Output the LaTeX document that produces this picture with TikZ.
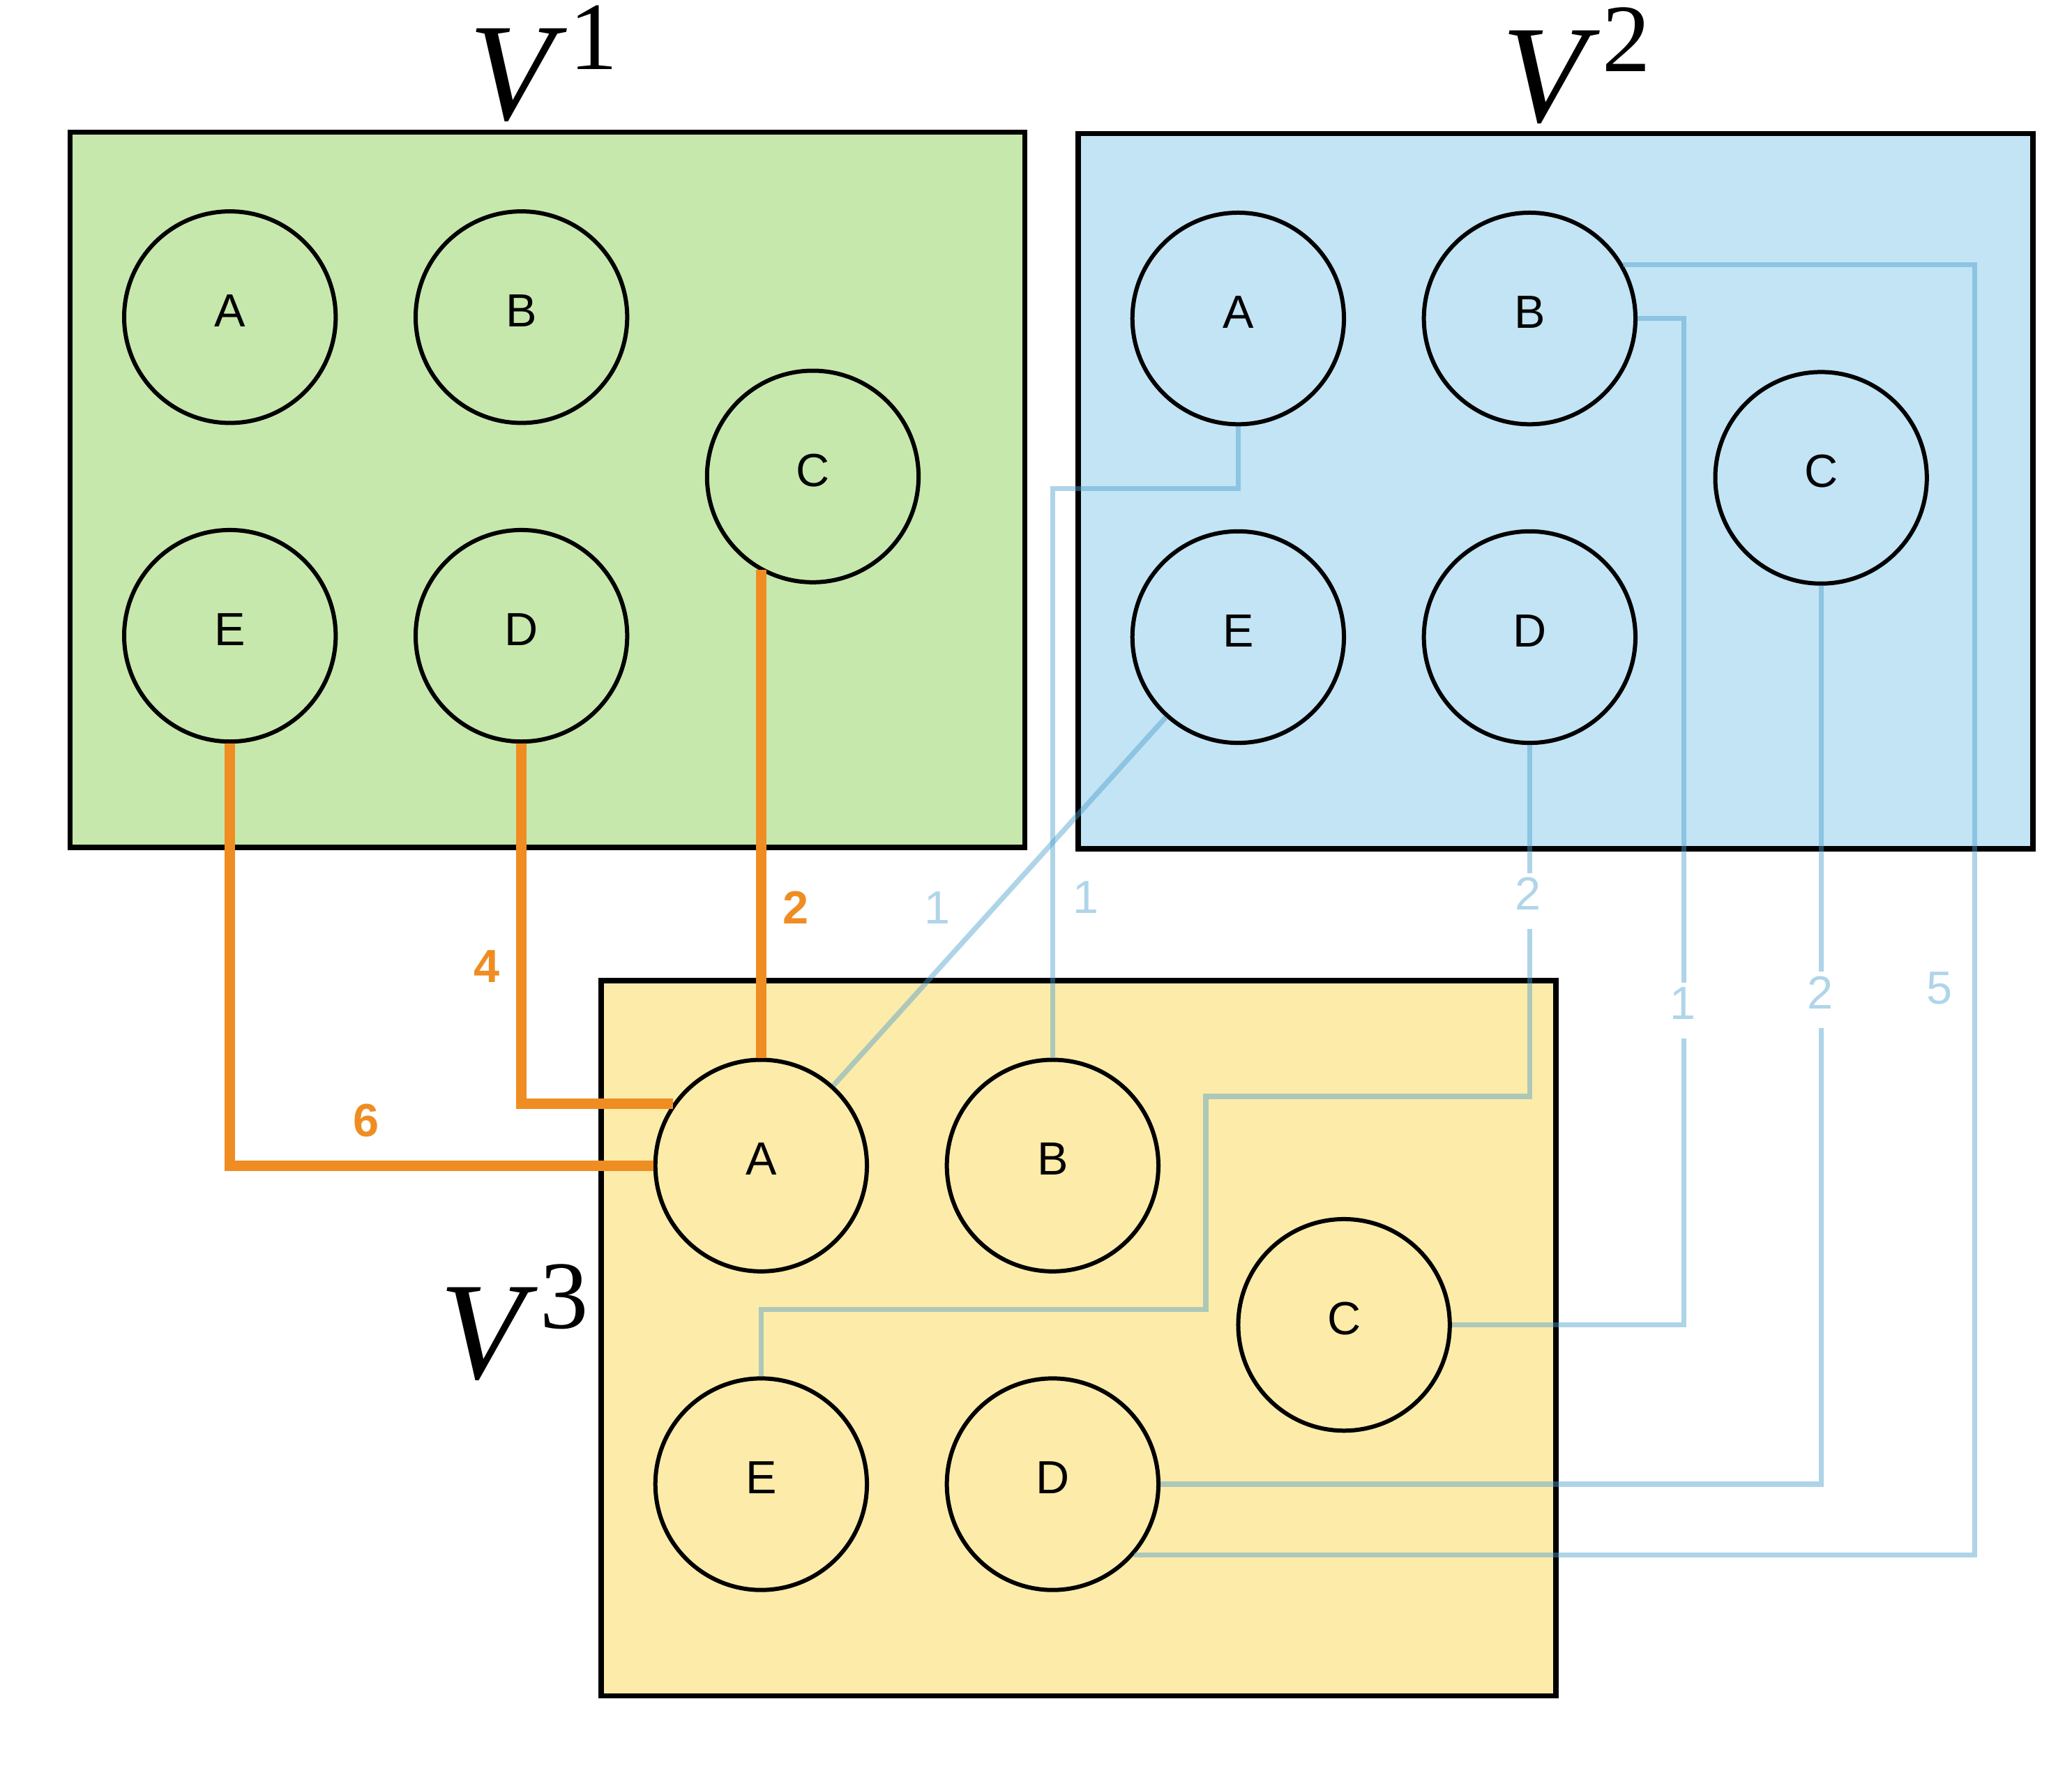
\documentclass[tikz,border=0pt]{standalone}
\usepackage{fontspec}
\setmainfont{Liberation Serif}
\newfontfamily\labelfont{Liberation Sans}
\usetikzlibrary{calc, positioning}
\definecolor{greenset}{RGB}{199,232,172}
\definecolor{blueset}{RGB}{194,228,245}
\definecolor{yellowset}{RGB}{253,235,170}
\definecolor{flowcol}{RGB}{239,141,34}
\definecolor{linkcol}{RGB}{76,159,205}
\definecolor{linktext}{RGB}{176,213,233}
\tikzstyle{panel}=[draw, line width=1.1pt, minimum width=7.22cm, minimum height=5.41cm, anchor=north west, inner sep=0pt, outer sep=0pt]
\tikzstyle{vertex}=[circle, draw, line width=0.9pt, minimum size=1.6cm, inner sep=0pt, text depth=2.8pt, font=\labelfont\fontsize{10}{12}\selectfont]
\tikzstyle{flow}=[draw=flowcol, line width=2.2pt]
\tikzstyle{link}=[draw=linkcol, draw opacity=0.45, line width=1.1pt]
\tikzstyle{flowlbl}=[text=flowcol, inner sep=0pt, font=\labelfont\bfseries\fontsize{10}{12}\selectfont]
\tikzstyle{linklbl}=[text=linktext, inner sep=0pt, font=\labelfont\fontsize{10}{12}\selectfont]
\tikzstyle{gaplbl}=[linklbl, fill=white, inner sep=1pt, text depth=3.1pt, anchor=base]
\tikzstyle{setname}=[anchor=base west, inner sep=0pt, font=\fontsize{29.9}{30}\selectfont]
\newcommand{\setlabel}[1]{\textit{V}\kern0.5pt\raisebox{10.8pt}{\fontsize{20.8}{21}\selectfont #1}}

\begin{document}
\begin{tikzpicture}[x=0.01cm, y=-0.01cm, node distance=7.78mm and 5.73mm]
  \useasboundingbox (0,0) rectangle (1568,1348);
  % the three sets
  \node[panel, fill=greenset] (V1) at (53,100) {};
  \node[panel, fill=blueset] (V2) at (816,101) {};
  \node[panel, fill=yellowset] (V3) at (455,742) {};
  \node[setname] (n1) at (354,90.5) {\setlabel{1}};
  \node[setname] (n2) at (1136,92.3) {\setlabel{2}};
  \node[setname] (n3) at (332,1043) {\setlabel{3}};

  \node[vertex] (A1) at ([shift={(121,140)}]V1.north west) {A};
  \node[vertex] (B1) [right=of A1] {B};
  \node[vertex] (E1) [below=of A1] {E};
  \node[vertex] (D1) [right=of E1] {D};
  \node[vertex] (C1) at ($(B1)!.5!(D1)+(220.5,0)$) {C};

  \node[vertex] (A2) at ([shift={(121,140)}]V2.north west) {A};
  \node[vertex] (B2) [right=of A2] {B};
  \node[vertex] (E2) [below=of A2] {E};
  \node[vertex] (D2) [right=of E2] {D};
  \node[vertex] (C2) at ($(B2)!.5!(D2)+(220.5,0)$) {C};

  \node[vertex] (A3) at ([shift={(121,140)}]V3.north west) {A};
  \node[vertex] (B3) [right=of A3] {B};
  \node[vertex] (E3) [below=of A3] {E};
  \node[vertex] (D3) [right=of E3] {D};
  \node[vertex] (C3) at ($(B3)!.5!(D3)+(220.5,0)$) {C};

  % V^1 -> V^3
  \draw[flow] (E1.south) |- (A3.west);
  \draw[flow] (D1.south) |- (A3.145);
  \draw[flow] (A3.north |- C1.240) -- (A3.north);
  \node[flowlbl] (w6) at (277,848) {6};
  \node[flowlbl] (w4) at (368.5,731.5) {4};
  \node[flowlbl] (w2) at (602,686.5) {2};

  % V^2 -> V^3
  \draw[link] (A2.south) -- ++(0,47) -| (B3.north);
  \draw[link] (E2) -- (A3);
  \draw[link] (D2.south) -- ++(0,266) -| ++(-245,161) -| (E3.north);
  \draw[link] (B2.east) -- ++(35,0) |- (C3.east);
  \draw[link] (C2.south) |- (D3.east);
  \draw[link] (B2.30) -- ++(266,0) |- (D3.-41.5);
  \node[linklbl] (wEA) at (709.5,687) {1};
  \node[linklbl] (wAB) at (822,679) {1};
  \node[gaplbl] (wDE) at (1156.5,688.7) {2};
  \node[gaplbl] (wBC) at (1273.5,771.4) {1};
  \node[gaplbl] (wCD) at (1377.5,763.5) {2};
  \node[linklbl] (wBD) at (1467.5,748) {5};
\end{tikzpicture}
\end{document}
